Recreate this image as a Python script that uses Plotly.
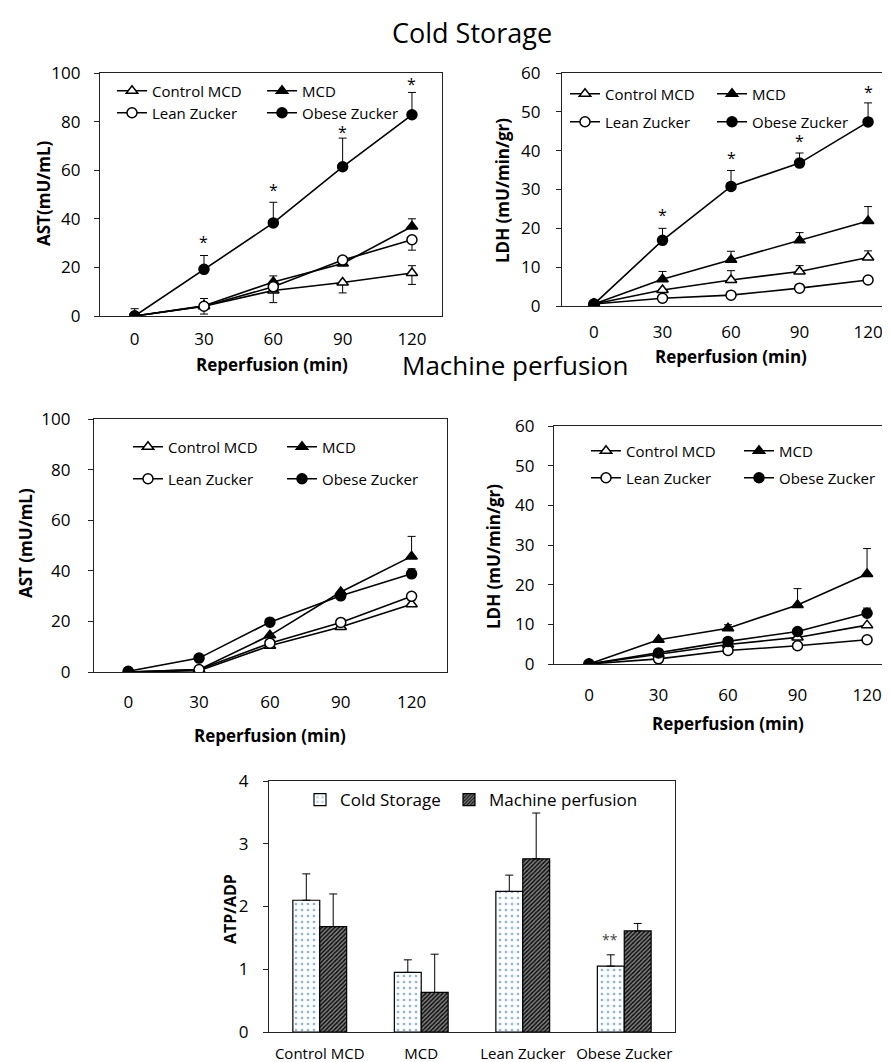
import plotly.graph_objects as go

# ---------------- data ----------------
time_min = [0, 30, 60, 90, 120]
groups = ["Control MCD", "MCD", "Lean Zucker", "Obese Zucker"]

# Cold storage - AST (mU/mL)
cs_ast_control = [0, 4, 10.5, 13.8, 17.7]
cs_ast_mcd = [0, 4.2, 14, 21.6, 36.8]
cs_ast_lean = [0, 4, 12, 23, 31.4]
cs_ast_obese = [0, 19.2, 38.3, 61.4, 82.8]
cs_ast_control_ep = [3, 3.2, 0, 0, 3]
cs_ast_control_em = [0, 3.2, 5, 4.3, 4.7]
cs_ast_mcd_ep = [0, 0, 2.5, 1.2, 3.2]
cs_ast_mcd_em = [0, 0, 0, 0, 0]
cs_ast_lean_ep = [0, 0, 0, 1, 0]
cs_ast_lean_em = [0, 0, 2, 0, 4.3]
cs_ast_obese_ep = [0, 5.7, 8.5, 11.8, 9.2]
cs_ast_obese_em = [0, 0, 0, 0, 0]
cs_ast_sig = ["", "*", "*", "*", "*"]
cs_ast_sig_y = [None, 30.6, 51.9, 75.8, 95.3]

# Cold storage - LDH (mU/min/gr)
cs_ldh_control = [0.5, 4.1, 6.7, 8.9, 12.5]
cs_ldh_mcd = [0.5, 6.9, 11.9, 16.9, 21.9]
cs_ldh_lean = [0.5, 2.0, 2.8, 4.6, 6.7]
cs_ldh_obese = [0.5, 16.9, 30.8, 36.8, 47.4]
cs_ldh_control_ep = [0, 0, 2.4, 1.5, 1.7]
cs_ldh_mcd_ep = [0, 2.0, 2.2, 2.0, 3.7]
cs_ldh_lean_ep = [0, 0, 0, 0, 0]
cs_ldh_obese_ep = [0, 3.1, 4.1, 2.6, 4.9]
cs_ldh_sig = ["", "*", "*", "*", "*"]
cs_ldh_sig_y = [None, 23.5, 38.1, 42.4, 55.0]

# Machine perfusion - AST (mU/mL)
mp_ast_control = [0, 0.5, 10.4, 17.8, 26.8]
mp_ast_mcd = [0, 1.0, 14.5, 31.6, 45.7]
mp_ast_lean = [0, 1.0, 11.4, 19.6, 29.9]
mp_ast_obese = [0.3, 5.5, 19.7, 30.1, 38.8]
mp_ast_control_ep = [0, 0, 0, 0, 0]
mp_ast_mcd_ep = [0, 0, 0, 0, 7.9]
mp_ast_lean_ep = [0, 0, 0, 0, 0]
mp_ast_obese_ep = [0, 0, 0, 0, 2.0]

# Machine perfusion - LDH (mU/min/gr)
mp_ldh_control = [0, 2.5, 4.9, 6.7, 9.8]
mp_ldh_mcd = [0, 6.1, 9.0, 14.9, 22.7]
mp_ldh_lean = [0, 1.3, 3.4, 4.6, 6.1]
mp_ldh_obese = [0, 2.8, 5.7, 8.2, 12.8]
mp_ldh_control_ep = [0, 0, 0, 0, 0]
mp_ldh_mcd_ep = [0, 0, 0.9, 4.1, 6.4]
mp_ldh_lean_ep = [0, 0, 0, 0, 0]
mp_ldh_obese_ep = [0, 0, 0, 0, 1.3]

# ATP/ADP bar chart
atp_cs = [2.10, 0.95, 2.24, 1.05]
atp_mp = [1.68, 0.63, 2.76, 1.61]
atp_cs_err = [0.42, 0.20, 0.26, 0.18]
atp_mp_err = [0.52, 0.61, 0.73, 0.12]
atp_cs_sig = ["", "", "", "**"]
atp_cs_sig_y = [None, None, None, 1.48]

# ---------------- figure ----------------
OFF = 8  # page body margin
W, H = 890 - OFF, 1062 - OFF
FONT = "Open Sans"


def px(x):
    return (x - OFF) / W


def py(y):
    return 1 - (y - OFF) / H


styles = {
    "Control MCD": dict(symbol="triangle-up", color="white"),
    "MCD": dict(symbol="triangle-up", color="black"),
    "Lean Zucker": dict(symbol="circle", color="white"),
    "Obese Zucker": dict(symbol="circle", color="black"),
}

fig = go.Figure()
layout_legends = {}
legend_counter = [0]


def legend_name():
    legend_counter[0] += 1
    return "legend" if legend_counter[0] == 1 else f"legend{legend_counter[0]}"


def add_legend(lg, lx, ly, size):
    layout_legends[lg] = dict(
        x=px(lx), y=py(ly), xanchor="left", yanchor="middle",
        bgcolor="rgba(0,0,0,0)", font=dict(family=FONT, size=size, color="black"),
        itemwidth=30,
    )


def add_panel(axis_suffix, series, legend_pos):
    for (name, y, ep, em), (lx, ly) in zip(series, legend_pos):
        lg = legend_name()
        st = styles[name]
        fig.add_trace(go.Scatter(
            x=time_min, y=y, name=name, mode="lines+markers",
            xaxis="x" + axis_suffix, yaxis="y" + axis_suffix,
            line=dict(color="black", width=1.6),
            marker=dict(symbol=st["symbol"], color=st["color"], size=10,
                        line=dict(color="black", width=1.5)),
            error_y=dict(type="data", array=ep, arrayminus=em, symmetric=False,
                         color="black", thickness=1, width=4),
            legend=lg, showlegend=True,
        ))
        add_legend(lg, lx, ly, 15)


zeros = [0, 0, 0, 0, 0]

add_panel("", [
    ("Control MCD", cs_ast_control, cs_ast_control_ep, cs_ast_control_em),
    ("MCD", cs_ast_mcd, cs_ast_mcd_ep, cs_ast_mcd_em),
    ("Lean Zucker", cs_ast_lean, cs_ast_lean_ep, cs_ast_lean_em),
    ("Obese Zucker", cs_ast_obese, cs_ast_obese_ep, cs_ast_obese_em),
], [(112, 91), (262, 91), (112, 113), (262, 113)])

add_panel("2", [
    ("Control MCD", cs_ldh_control, cs_ldh_control_ep, zeros),
    ("MCD", cs_ldh_mcd, cs_ldh_mcd_ep, zeros),
    ("Lean Zucker", cs_ldh_lean, cs_ldh_lean_ep, zeros),
    ("Obese Zucker", cs_ldh_obese, cs_ldh_obese_ep, zeros),
], [(565, 94), (712, 94), (565, 122), (712, 122)])

add_panel("3", [
    ("Control MCD", mp_ast_control, mp_ast_control_ep, zeros),
    ("MCD", mp_ast_mcd, mp_ast_mcd_ep, zeros),
    ("Lean Zucker", mp_ast_lean, mp_ast_lean_ep, zeros),
    ("Obese Zucker", mp_ast_obese, mp_ast_obese_ep, zeros),
], [(128, 447), (282, 447), (128, 479), (282, 479)])

add_panel("4", [
    ("Control MCD", mp_ldh_control, mp_ldh_control_ep, zeros),
    ("MCD", mp_ldh_mcd, mp_ldh_mcd_ep, zeros),
    ("Lean Zucker", mp_ldh_lean, mp_ldh_lean_ep, zeros),
    ("Obese Zucker", mp_ldh_obese, mp_ldh_obese_ep, zeros),
], [(586, 451), (739, 451), (586, 478), (739, 478)])

# Bar chart
lg_cs = legend_name()
fig.add_trace(go.Bar(
    x=groups, y=atp_cs, name="Cold Storage", xaxis="x5", yaxis="y5",
    marker=dict(color="white", line=dict(color="black", width=1.2),
                pattern=dict(shape=".", fgcolor="#8fb3d9", bgcolor="#fbfdff", size=6, solidity=0.15)),
    error_y=dict(type="data", array=atp_cs_err, arrayminus=[0, 0, 0, 0], symmetric=False,
                 color="black", thickness=1, width=4),
    legend=lg_cs,
))
add_legend(lg_cs, 300, 800, 17)
lg_mp = legend_name()
fig.add_trace(go.Bar(
    x=groups, y=atp_mp, name="Machine perfusion", xaxis="x5", yaxis="y5",
    marker=dict(color="#555", line=dict(color="black", width=1.2),
                pattern=dict(shape="/", fgcolor="#111", bgcolor="#8a8a8a", size=3, solidity=0.55)),
    error_y=dict(type="data", array=atp_mp_err, arrayminus=[0, 0, 0, 0], symmetric=False,
                 color="black", thickness=1, width=4),
    legend=lg_mp,
))
add_legend(lg_mp, 449, 800, 17)

# ---------------- axes ----------------
axis_common = dict(showline=True, mirror=True, linecolor="#222", linewidth=1.2,
                   showgrid=False, zeroline=False, automargin=False,
                   tickfont=dict(family=FONT, size=17, color="black"))


def xline(domain, rng, anchor, standoff):
    return dict(axis_common, domain=domain, range=rng, tickvals=time_min, anchor=anchor,
                ticks="", ticklabelstandoff=standoff)


def yline(domain, rng, dtick, anchor, standoff):
    return dict(axis_common, domain=domain, range=rng, dtick=dtick, ticks="outside",
                ticklen=5, tickcolor="#222", anchor=anchor, ticklabelstandoff=standoff)


fig.update_layout(
    template="none",
    width=W, height=H, margin=dict(l=0, r=0, t=0, b=0, pad=0),
    paper_bgcolor="white", plot_bgcolor="white",
    font=dict(family=FONT, color="black"),
    barmode="group", bargap=0.47, bargroupgap=0,
    xaxis=xline([px(100), px(442)], [-15, 133], "y", 7),
    yaxis=yline([py(316), py(73)], [0, 100], 20, "x", 10),
    xaxis2=xline([px(562), 1.0], [-14, 129.6], "y2", 10),
    yaxis2=yline([py(306), py(73)], [0, 60], 10, "x2", 12),
    xaxis3=xline([px(94), px(447)], [-14.5, 135], "y3", 14),
    yaxis3=yline([py(672), py(419)], [0, 100], 20, "x3", 14),
    xaxis4=xline([px(554), 1.0], [-15.1, 129.9], "y4", 15),
    yaxis4=yline([py(664), py(426)], [0, 60], 10, "x4", 10),
    xaxis5=dict(axis_common, domain=[px(269), px(675)], anchor="y5", ticks="",
                tickfont=dict(family=FONT, size=15, color="black"), ticklabelstandoff=8),
    yaxis5=dict(axis_common, domain=[py(1032), py(781)], range=[0, 4], dtick=1,
                anchor="x5", ticks="outside", ticklen=5, tickcolor="#222", ticklabelstandoff=11),
    **layout_legends,
)

annotations = []
# significance marks (glyph centred on the read position)
for xv, ys, s in zip(time_min, cs_ast_sig_y, cs_ast_sig):
    if s:
        annotations.append(dict(x=xv, y=ys, xref="x", yref="y", text=s, showarrow=False,
                                xanchor="center", yanchor="middle", yshift=0,
                                font=dict(family=FONT, size=16)))
for xv, ys, s in zip(time_min, cs_ldh_sig_y, cs_ldh_sig):
    if s:
        annotations.append(dict(x=xv, y=ys, xref="x2", yref="y2", text=s, showarrow=False,
                                xanchor="center", yanchor="middle", yshift=0,
                                font=dict(family=FONT, size=16)))
for g, ys, s in zip(groups, atp_cs_sig_y, atp_cs_sig):
    if s:
        annotations.append(dict(x=g, y=ys, xref="x5", yref="y5", text=s, showarrow=False,
                                xanchor="center", yanchor="middle", yshift=0, xshift=-14,
                                font=dict(family=FONT, size=14, color="#444")))

# titles
annotations += [
    dict(text="Cold Storage", x=px(472), y=py(32), xref="paper", yref="paper",
         xanchor="center", yanchor="middle", showarrow=False, font=dict(family=FONT, size=27)),
    dict(text="Machine perfusion", x=px(515), y=py(365), xref="paper", yref="paper",
         xanchor="center", yanchor="middle", showarrow=False, font=dict(family=FONT, size=26)),
]
ytitles = [("AST(mU/mL)", 43, 193, 17), ("LDH (mU/min/gr)", 503, 190, 17),
           ("AST (mU/mL)", 25, 543, 17), ("LDH (mU/min/gr)", 493, 557, 17),
           ("ATP/ADP", 230, 909, 16)]
for t, x, y, s in ytitles:
    annotations.append(dict(text=f"<b>{t}</b>", x=px(x), y=py(y), xref="paper", yref="paper",
                            xanchor="center", yanchor="middle",
                            showarrow=False, textangle=-90, font=dict(family=FONT, size=s)))
xtitles = [(272, 365), (731, 357), (270, 735), (728, 723)]
for x, y in xtitles:
    annotations.append(dict(text="<b>Reperfusion (min)</b>", x=px(x), y=py(y), xref="paper",
                            yref="paper", xanchor="center", yanchor="middle",
                            showarrow=False, font=dict(family=FONT, size=17)))

fig.update_layout(annotations=annotations)
fig.write_html("out.html")
